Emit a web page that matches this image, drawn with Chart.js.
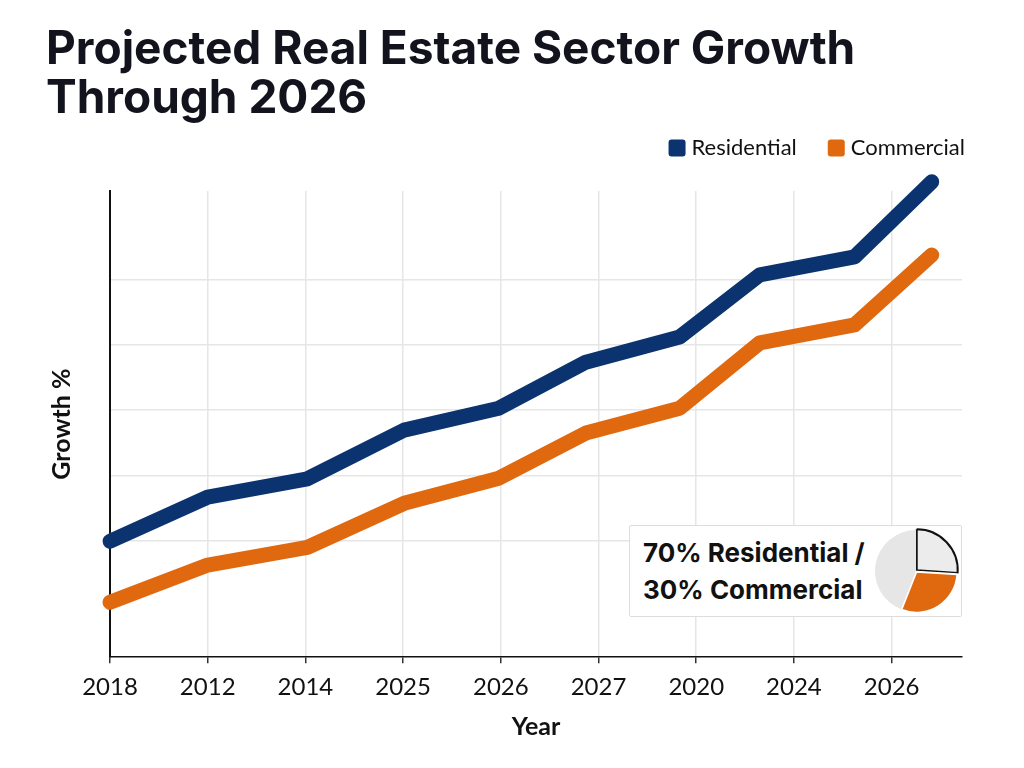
<!DOCTYPE html>
<html>
<head>
<meta charset="utf-8">
<script src="https://cdn.jsdelivr.net/npm/chart.js@4.4.1/dist/chart.umd.min.js"></script>
<style>
  body { margin: 0; background: #fff; }
  #wrap { position: relative; width: 1024px; height: 768px; }
  #inset {
    position: absolute; left: 629px; top: 525px; width: 331px; height: 90px;
    background: #fff; border: 1.5px solid #dddddd; border-radius: 2px;
    font-family: Inter, sans-serif; font-weight: 700; font-size: 26px;
    line-height: 37px; color: #111;
  }
  #inset .txt { position: absolute; left: 13px; top: 8px; }
  #pieBox { position: absolute; left: 242px; top: 1px; width: 88px; height: 88px; }
</style>
</head>
<body>
<div id="wrap">
  <canvas id="growthChart" width="1024" height="768"></canvas>
  <div id="inset">
    <div class="txt">70% Residential /<br>30% Commercial</div>
    <div id="pieBox"><canvas id="pieChart" width="88" height="88"></canvas></div>
  </div>
</div>
<script>
// data
const yearLabels = ["2018", "2012", "2014", "2025", "2026", "2027", "2020", "2024", "2026"];
const xPositions = [0, 1.0, 2.02, 3.01, 3.98, 4.87, 5.83, 6.65, 7.62, 8.41];
const residential = [1.99, 3.34, 3.9, 5.39, 6.06, 7.47, 8.24, 10.14, 10.69, 12.99];
const commercial = [0.12, 1.26, 1.8, 3.15, 3.92, 5.3, 6.06, 8.06, 8.61, 10.75];
const gridValues = [2, 4, 6, 8, 10];
const pieLabels = ["Residential (outlined)", "Commercial", "Residential"];
const pieShares = [26, 30, 44];

const navy = "#0b3370";
const orange = "#e0690f";

function pts(vals) {
  return vals.map((v, i) => ({ x: xPositions[i], y: v }));
}

// legend drawn by hand so it can sit right-aligned in the gap above the plot
const topLegend = {
  id: "topLegend",
  afterDraw(chart, args, opts) {
    const ctx = chart.ctx;
    ctx.save();
    ctx.font = "22px Lato";
    ctx.textBaseline = "middle";
    let x = opts.right;
    const items = chart.data.datasets.slice().reverse();
    items.forEach((ds) => {
      const w = ctx.measureText(ds.label).width;
      x -= w;
      ctx.fillStyle = "#111";
      ctx.fillText(ds.label, x, opts.y);
      x -= 6 + 17;
      ctx.fillStyle = ds.borderColor;
      ctx.beginPath();
      ctx.roundRect(x, opts.y - 8.5, 17, 17, 3);
      ctx.fill();
      x -= 31;
    });
    ctx.restore();
  }
};

function draw() {
  new Chart(document.getElementById("growthChart"), {
    type: "line",
    data: {
      datasets: [
        {
          label: "Residential",
          data: pts(residential),
          borderColor: navy,
          backgroundColor: navy,
          borderWidth: 15,
          borderCapStyle: "round",
          borderJoinStyle: "round",
          pointRadius: 0,
          clip: false
        },
        {
          label: "Commercial",
          data: pts(commercial),
          borderColor: orange,
          backgroundColor: orange,
          borderWidth: 15,
          borderCapStyle: "round",
          borderJoinStyle: "round",
          pointRadius: 0,
          clip: false
        }
      ]
    },
    options: {
      responsive: false,
      animation: false,
      layout: { padding: { left: 46, right: 62, top: 0, bottom: 22 } },
      plugins: {
        tooltip: { enabled: false },
        legend: { display: false },
        topLegend: { right: 965, y: 148 },
        title: {
          display: true,
          text: ["Projected Real Estate Sector Growth", "Through 2026"],
          align: "start",
          color: "#12131c",
          font: { family: "Inter", weight: "bold", size: 46, lineHeight: 1.065 },
          padding: { top: 26, bottom: 67 }
        }
      },
      scales: {
        x: {
          type: "linear",
          min: 0,
          max: 8.72,
          afterBuildTicks: (scale) => { scale.ticks = yearLabels.map((_, i) => ({ value: i })); },
          ticks: {
            color: "#111",
            font: { family: "Lato", size: 24 },
            padding: 10,
            callback: (v) => yearLabels[v]
          },
          grid: { color: "#e6e6e6", lineWidth: 1.5, tickColor: "#333", tickLength: 6 },
          border: { color: "#111", width: 1.5 },
          title: {
            display: true,
            text: "Year",
            color: "#111",
            font: { family: "Lato", weight: "bold", size: 25 },
            padding: { top: 0, bottom: 4 }
          }
        },
        y: {
          min: -1.56,
          max: 12.71,
          afterBuildTicks: (scale) => { scale.ticks = gridValues.map(v => ({ value: v })); },
          ticks: { display: false },
          grid: { color: "#e6e6e6", lineWidth: 1.5, drawTicks: false },
          border: { color: "#111", width: 2 },
          title: {
            display: true,
            text: "Growth %",
            color: "#111",
            font: { family: "Lato", weight: "bold", size: 25 },
            padding: { top: 1, bottom: 33 }
          }
        }
      }
    },
    plugins: [topLegend]
  });

  new Chart(document.getElementById("pieChart"), {
    type: "pie",
    data: {
      labels: pieLabels,
      datasets: [{
        data: pieShares,
        backgroundColor: ["#ececec", orange, "#e6e6e6"],
        borderColor: ["#111", "#fff", "#fff"],
        borderWidth: [2, 2, 0],
        offset: [4, 3, 0]
      }]
    },
    options: {
      responsive: false,
      animation: false,
      plugins: { legend: { display: false }, tooltip: { enabled: false } }
    }
  });
}

Promise.all([
  document.fonts.load("bold 46px Inter"),
  document.fonts.load("bold 26px Inter"),
  document.fonts.load("22px Lato"),
  document.fonts.load("bold 25px Lato")
]).then(draw, draw);
</script>
</body>
</html>
